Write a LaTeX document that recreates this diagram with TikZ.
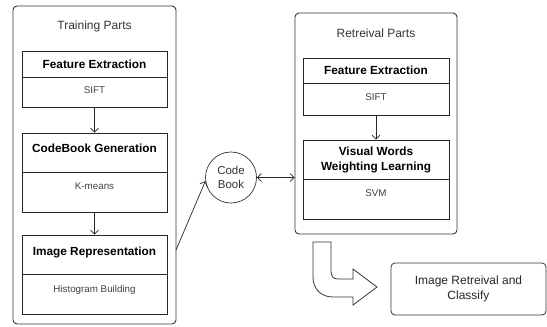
\documentclass[tikz,border=0pt]{standalone}
\usepackage{fontspec}
\setmainfont{Liberation Sans}
\usetikzlibrary{arrows.meta}

\begin{document}
\begin{tikzpicture}[x=1pt, y=-1pt]
            \tikzstyle{part}=[draw=black!80, line width=0.9pt, rounded corners=4pt, inner sep=0pt]
            \tikzstyle{head}=[draw=black!85, line width=0.8pt, inner sep=2pt, font=\fontsize{11.8}{13}\selectfont\bfseries, align=center]
            \tikzstyle{body}=[draw=black!85, line width=0.8pt, inner sep=2pt, font=\fontsize{9.8}{11}\selectfont, text=black!75, text depth=11pt]
            \tikzstyle{link}=[black!85, line width=0.7pt, -{Straight Barb[length=4pt,width=8pt]}]
            \tikzstyle{twoway}=[black!85, line width=0.7pt, {Straight Barb[length=4pt,width=8pt]}-{Straight Barb[length=4pt,width=8pt]}]
            \useasboundingbox (0,0) rectangle (547,327);

            % training parts
            \node[part, minimum width=163, minimum height=318] (train) at (94.5,165) {};
            \node[font=\fontsize{12}{14}\selectfont, text=black!80] (traint) at (94.5,26) {Training Parts};
            \node[head, minimum width=145, minimum height=26] (fe) at (94.5,64) {Feature Extraction};
            \node[body, minimum width=145, minimum height=30, text depth=3pt] (fes) at (94.5,92) {SIFT};
            \node[head, minimum width=145, minimum height=39, text depth=9pt] (cb) at (94.5,152.5) {CodeBook Generation};
            \node[body, minimum width=145, minimum height=40] (cbs) at (94.5,192) {K-means};
            \node[head, minimum width=145, minimum height=39, text depth=7pt] (ir) at (94.5,254.5) {Image Representation};
            \node[body, minimum width=145, minimum height=40] (irs) at (94.5,294) {Histogram Building};

            \draw[link] (fes) -- (cb);
            \draw[link] (cbs) -- (ir);

            % code book
            \node[circle, draw=black!80, line width=0.7pt, minimum size=51, inner sep=0pt, align=center,
                  font=\fontsize{11.5}{13.5}\selectfont, text=black!80] (book) at (231,177.5) {Code\\Book};
            \coordinate (irout) at (176,250);
            \draw[link] (irout) -- (book.188);

            % retreival parts
            \node[part, minimum width=162, minimum height=221] (retr) at (376,123.5) {};
            \node[font=\fontsize{12}{14}\selectfont, text=black!80] (retrt) at (376,33) {Retreival Parts};
            \node[head, minimum width=146, minimum height=25] (fe2) at (376,70.5) {Feature Extraction};
            \node[body, minimum width=146, minimum height=32, text depth=3pt] (fe2s) at (376,99) {SIFT};
            \node[head, minimum width=146, minimum height=39, font=\fontsize{11.8}{15}\selectfont\bfseries] (vw) at (376,159.5) {Visual Words\\Weighting Learning};
            \node[body, minimum width=146, minimum height=40] (vws) at (376,199) {SVM};

            \draw[link] (fe2s) -- (vw);
            \draw[twoway] (book.east) -- (book.east -| retr.west);

            % result
            \node[draw=black!80, line width=0.8pt, rounded corners=4pt, minimum width=155, minimum height=52, align=center,
                  font=\fontsize{12}{15}\selectfont, text=black!85] (res) at (468.5,289) {Image Retreival and\\Classify};
            \draw[black!80, line width=0.8pt, line join=miter]
                (313,242) -- (331,242) -- (331,271) .. controls (331,276) and (333,279) .. (338,279)
                -- (353,279) -- (353,269) -- (377,287) -- (353,305) -- (353,297) -- (333,297)
                .. controls (321,297) and (313,289) .. (313,277) -- cycle;
          \end{tikzpicture}
\end{document}
